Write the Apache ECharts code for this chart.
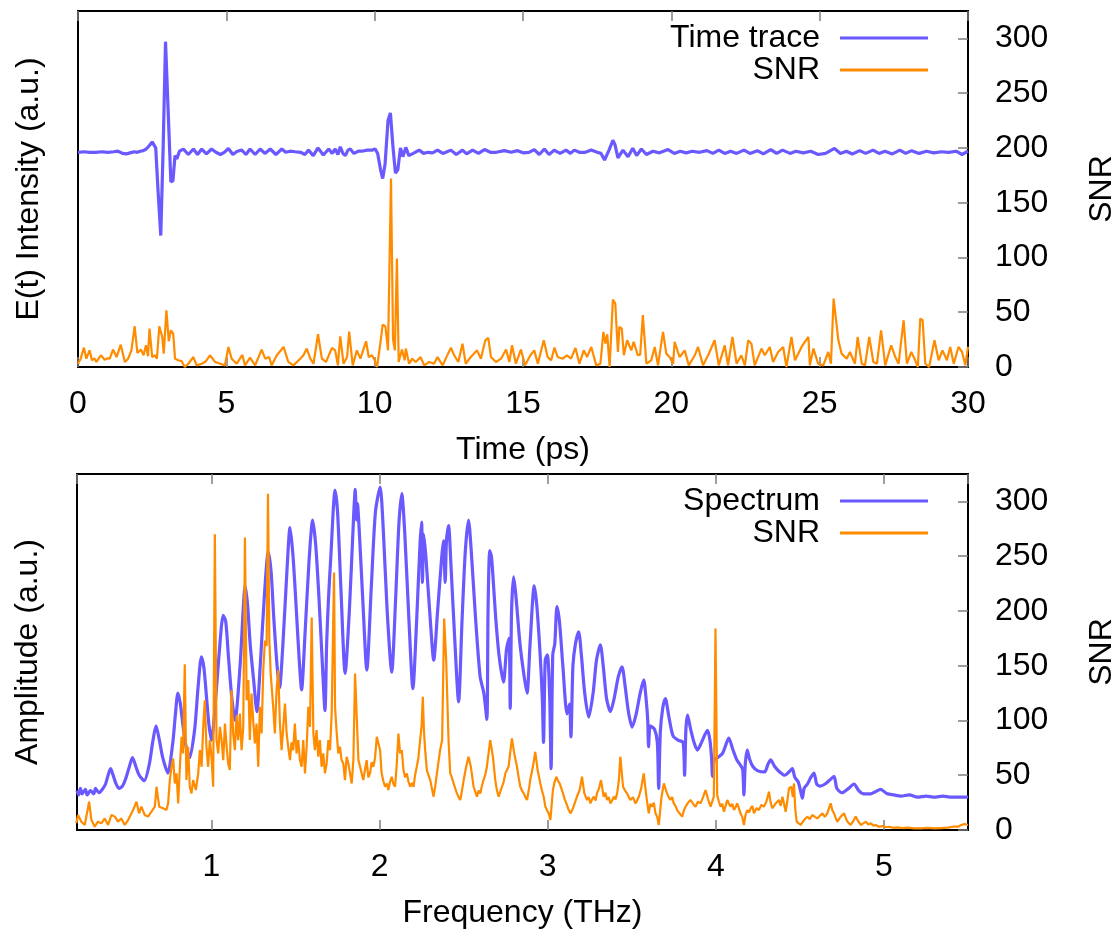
<!DOCTYPE html>
<html>
<head>
<meta charset="utf-8">
<script src="https://cdn.jsdelivr.net/npm/echarts@6/dist/echarts.min.js"></script>
<style>
html,body{margin:0;padding:0;background:#fff;}
#chart{width:1119px;height:930px;}
</style>
</head>
<body>
<div id="chart"></div>
<script>
// ---------- DATA ----------
const timeRange = [0, 30];
const freqRange = [0.2, 5.5];
const snrRange = [0, 325];

// Time trace (a.u., drawn on a hidden axis of same span as SNR)
const timeTrace = [
[0,196],[0.2,196.5],[0.4,196],[0.6,196],[0.8,196.5],[1.0,196],[1.2,196.5],[1.35,197],[1.5,195],[1.63,194.5],[1.75,195.5],[1.9,196.5],[2.0,196],[2.1,197],[2.2,197.5],[2.3,199],[2.4,202],[2.5,205.5],[2.55,207],[2.62,200],[2.7,160],[2.79,120],[2.87,200],[2.95,297],[3.03,240],[3.13,169],[3.2,170],[3.27,193],[3.33,190],[3.42,197],[3.55,199],[3.72,194],[3.89,199],[4.03,194],[4.17,199],[4.33,194.5],[4.5,199],[4.65,196],[4.8,194],[4.93,196],[5.07,199.5],[5.22,194],[5.37,197],[5.52,198],[5.66,194],[5.8,199],[5.97,194],[6.14,199],[6.3,195],[6.48,199],[6.67,194],[6.87,199],[7.0,196],[7.15,197],[7.32,196.5],[7.5,196],[7.65,194],[7.77,198],[7.93,193],[8.09,200],[8.27,193.5],[8.45,199],[8.57,195],[8.67,199],[8.76,194],[8.84,201],[8.93,195],[9.01,193],[9.1,198],[9.18,199],[9.3,195],[9.45,197],[9.57,197],[9.75,198],[9.91,198],[10.02,199],[10.1,195],[10.2,180],[10.27,172],[10.35,185],[10.45,225],[10.53,232],[10.62,200],[10.7,177],[10.78,180],[10.87,200],[10.95,192],[11.05,200.5],[11.15,193],[11.3,195],[11.5,198],[11.65,195],[11.8,196],[11.95,195.5],[12.12,198],[12.3,195],[12.4,196],[12.57,198],[12.75,194],[12.96,198],[13.1,194.5],[13.3,198],[13.5,195],[13.7,198.5],[13.9,196],[14.1,196],[14.37,197.5],[14.6,196],[14.82,197.5],[15.0,195.5],[15.2,196],[15.38,198.5],[15.55,194],[15.72,199],[15.88,194],[16.05,198],[16.25,195],[16.45,198],[16.6,195],[16.73,198],[16.9,196],[17.1,196],[17.3,198],[17.5,196],[17.63,195],[17.75,189],[17.9,198],[18.03,207],[18.1,203],[18.2,191],[18.37,198],[18.54,192],[18.7,199.7],[18.83,193],[18.99,199],[19.16,194],[19.38,197],[19.6,195.5],[19.89,198.5],[20.1,195],[20.3,197],[20.5,195.5],[20.7,197],[20.95,196],[21.2,197.5],[21.4,195],[21.6,198],[21.8,195],[22.0,197],[22.2,195],[22.45,198],[22.65,195],[22.9,197.5],[23.1,194.5],[23.35,198.5],[23.55,195],[23.75,198],[24.0,195],[24.2,197],[24.45,195.5],[24.7,197],[24.95,194],[25.2,195],[25.5,199.5],[25.7,195],[25.9,197],[26.1,194.5],[26.35,197.5],[26.55,195],[26.8,198],[27.0,195],[27.2,197],[27.45,194.5],[27.7,198],[27.9,195],[28.1,197.5],[28.35,195],[28.6,197],[28.85,195.5],[29.1,196.5],[29.35,196],[29.6,197],[29.8,194],[30.0,197]
];

// SNR over time
const timeSNR = [
[0,3],[0.09,7.6],[0.2,17.7],[0.28,7.6],[0.39,15.2],[0.47,6.1],[0.55,8],[0.62,4.6],[0.77,10.7],[0.9,6.7],[1.0,8],[1.07,7.6],[1.18,15.9],[1.3,9.1],[1.44,20.4],[1.58,4.6],[1.69,7.6],[1.8,15.2],[1.91,37.2],[2.0,12.8],[2.12,15.9],[2.21,10.7],[2.29,19.8],[2.36,9.8],[2.41,35.1],[2.5,9.1],[2.59,10.7],[2.66,7.6],[2.74,37.2],[2.84,27.4],[2.89,12.2],[2.98,51.8],[3.06,23.5],[3.13,33.5],[3.21,30.5],[3.27,7.6],[3.38,6.1],[3.49,5.5],[3.6,0],[3.72,3],[3.89,9.1],[4.0,1.5],[4.17,3],[4.3,5],[4.45,10.7],[4.62,4.6],[4.8,3],[4.95,1.5],[5.07,18.3],[5.18,7.6],[5.35,3],[5.54,11],[5.63,1.5],[5.8,8.5],[5.97,1.5],[6.19,15.9],[6.31,7.6],[6.44,9.1],[6.53,1.5],[6.7,10.7],[6.93,18.3],[7.09,4.6],[7.26,1.5],[7.49,7.6],[7.6,10.7],[7.71,16.8],[7.83,7.6],[7.94,3],[8.09,29.9],[8.22,7.6],[8.36,4.6],[8.56,17.4],[8.67,15.2],[8.76,1.5],[8.84,28],[8.95,3],[9.07,9.1],[9.14,32.3],[9.26,1.5],[9.4,15.2],[9.52,7.6],[9.71,23.5],[9.8,9.1],[9.91,10.7],[10.0,6.1],[10.08,0],[10.19,21.3],[10.27,38.7],[10.36,37.2],[10.45,15.2],[10.55,172],[10.62,25.3],[10.68,15.2],[10.75,99],[10.81,4.6],[10.92,15.9],[11.01,6.1],[11.05,16.8],[11.16,3],[11.27,7.6],[11.38,4.6],[11.55,9],[11.67,1.5],[11.84,4.6],[12.0,3],[12.12,9],[12.29,1.5],[12.57,17.7],[12.68,10.7],[12.82,4.6],[12.96,21.3],[13.07,3],[13.24,9.1],[13.45,15.2],[13.58,7.6],[13.73,24.4],[13.83,26.5],[13.92,9.1],[14.09,4.6],[14.26,7.6],[14.43,15.9],[14.54,4.6],[14.63,19.8],[14.76,3],[14.93,15.9],[15.07,1.5],[15.25,10.7],[15.38,15.2],[15.5,3],[15.7,24.4],[15.83,9.1],[15.95,6.1],[16.06,17.7],[16.17,9.1],[16.34,7.6],[16.48,10.7],[16.62,7.6],[16.77,17.4],[16.9,3],[17.05,15.2],[17.16,9.1],[17.3,18.3],[17.47,1.5],[17.61,3],[17.71,32],[17.78,21.3],[17.84,29.9],[17.92,0],[18.03,61.6],[18.11,58],[18.2,13.7],[18.25,36.6],[18.33,35],[18.4,10.7],[18.51,24.4],[18.65,15.2],[18.73,22.9],[18.87,10.7],[18.95,11.3],[19.04,47.3],[19.16,3],[19.32,6],[19.44,18.3],[19.55,1.5],[19.72,32],[19.83,12.2],[19.94,9.1],[20.06,3],[20.11,22.9],[20.28,9.1],[20.45,15.2],[20.59,1.5],[20.79,10.7],[20.9,18.3],[21.07,1.5],[21.24,10.7],[21.46,24.4],[21.6,1.5],[21.8,19.8],[21.91,1.5],[22.06,27.4],[22.2,3],[22.36,10.7],[22.48,1.5],[22.59,24.4],[22.7,21.3],[22.81,1.5],[23.04,16.8],[23.15,10.7],[23.32,18.3],[23.43,4.6],[23.6,13.7],[23.77,18.3],[23.88,0],[24.05,27.4],[24.17,6.1],[24.39,18.3],[24.5,22.9],[24.62,27.4],[24.67,1.5],[24.79,16.8],[24.95,3],[25.12,1.5],[25.29,13.7],[25.38,3],[25.47,62.5],[25.63,24.4],[25.74,12.2],[25.91,7.6],[26.02,13.7],[26.19,3],[26.28,27.4],[26.42,3],[26.53,1.5],[26.67,27.4],[26.81,4.6],[26.93,3],[27.07,33.5],[27.21,1.5],[27.41,19.8],[27.55,9.1],[27.66,3],[27.83,42.7],[27.94,3],[28.09,13.7],[28.22,6.1],[28.31,0],[28.39,44.2],[28.47,42.7],[28.56,3],[28.69,0],[28.87,24.4],[29.01,6.1],[29.14,15.2],[29.29,6.1],[29.4,18.3],[29.52,3],[29.68,18.3],[29.8,13.7],[29.91,1.5],[30.0,18.3]
];

// Amplitude spectrum (a.u., hidden axis of same span as SNR)
const spectrum = [
[0.2,36],[0.21,32],[0.22,38],[0.23,33],[0.25,37],[0.26,32],[0.28,36],[0.3,33],[0.31,38],[0.33,34],[0.35,37],[0.37,42],[0.385,50],[0.4,56],[0.415,50],[0.43,43],[0.45,38],[0.47,40],[0.49,47],[0.51,57],[0.53,66],[0.55,58],[0.57,50],[0.6,45],[0.63,60],[0.65,80],[0.67,95],[0.69,82],[0.71,66],[0.74,52],[0.77,80],[0.785,105],[0.8,125],[0.815,115],[0.83,96],[0.85,75],[0.87,66],[0.9,92],[0.92,130],[0.94,158],[0.955,148],[0.97,122],[0.985,96],[1.0,82],[1.02,110],[1.045,160],[1.07,196],[1.085,190],[1.1,160],[1.12,122],[1.14,100],[1.17,150],[1.19,205],[1.2,223],[1.215,205],[1.23,170],[1.25,138],[1.27,108],[1.29,150],[1.315,215],[1.338,254],[1.355,235],[1.37,195],[1.39,150],[1.405,130],[1.425,170],[1.45,240],[1.467,276],[1.485,250],[1.505,200],[1.52,160],[1.536,128],[1.555,175],[1.58,245],[1.602,283],[1.62,260],[1.64,210],[1.66,150],[1.675,109],[1.685,170],[1.695,208],[1.71,250],[1.735,310],[1.75,290],[1.77,220],[1.795,143],[1.82,200],[1.845,285],[1.855,311],[1.862,283],[1.868,298],[1.88,270],[1.9,210],[1.924,146],[1.95,220],[1.975,290],[2.003,313],[2.02,280],[2.045,200],[2.072,144],[2.095,210],[2.115,280],[2.132,307],[2.15,270],[2.175,190],[2.198,129],[2.22,190],[2.24,260],[2.25,281],[2.255,226],[2.262,270],[2.275,250],[2.3,195],[2.322,155],[2.345,200],[2.37,250],[2.38,264],[2.39,226],[2.398,265],[2.41,278],[2.425,240],[2.445,180],[2.47,117],[2.49,190],[2.51,255],[2.529,283],[2.545,255],[2.57,195],[2.598,140],[2.62,125],[2.638,101],[2.645,200],[2.655,255],[2.665,250],[2.675,230],[2.69,195],[2.71,160],[2.737,135],[2.755,165],[2.77,175],[2.777,111],[2.785,200],[2.797,231],[2.81,215],[2.835,170],[2.86,140],[2.877,125],[2.895,170],[2.92,223],[2.935,205],[2.955,160],[2.968,120],[2.975,80],[2.985,155],[2.998,160],[3.012,120],[3.02,56],[3.03,160],[3.042,170],[3.055,204],[3.07,190],[3.09,150],[3.115,106],[3.13,115],[3.138,85],[3.15,150],[3.165,170],[3.184,181],[3.2,160],[3.22,125],[3.244,103],[3.27,125],[3.29,155],[3.313,169],[3.33,150],[3.35,120],[3.373,108],[3.395,120],[3.42,140],[3.442,149],[3.46,132],[3.48,108],[3.502,94],[3.525,105],[3.55,125],[3.571,137],[3.585,120],[3.595,100],[3.6,76],[3.61,95],[3.635,92],[3.652,80],[3.66,38],[3.67,90],[3.685,112],[3.7,120],[3.72,104],[3.745,86],[3.775,82],[3.805,80],[3.814,50],[3.822,92],[3.832,105],[3.85,92],[3.87,80],[3.89,73],[3.915,80],[3.95,91],[3.965,82],[3.975,65],[3.98,49],[3.99,64],[4.01,66],[4.04,70],[4.06,78],[4.077,84],[4.1,74],[4.125,64],[4.147,59],[4.16,55],[4.167,32],[4.175,60],[4.187,73],[4.2,65],[4.22,58],[4.25,54],[4.29,53],[4.31,60],[4.326,64],[4.35,58],[4.38,53],[4.41,50],[4.435,53],[4.455,56],[4.47,48],[4.49,44],[4.505,35],[4.515,29],[4.525,38],[4.545,42],[4.565,48],[4.584,52],[4.6,42],[4.62,40],[4.65,42],[4.68,46],[4.703,49],[4.72,38],[4.75,34],[4.79,38],[4.822,42],[4.85,36],[4.88,33],[4.92,33],[4.95,35],[4.98,37],[5.02,33],[5.06,32],[5.1,31],[5.15,32],[5.2,30],[5.25,31],[5.3,30],[5.35,31],[5.4,30],[5.45,30],[5.5,30]
];

// SNR over frequency
const freqSNR = [
[0.196,6.1],[0.206,13.7],[0.226,7.6],[0.246,4.6],[0.272,25.8],[0.286,9.1],[0.305,3],[0.325,7.6],[0.345,6.1],[0.365,10.6],[0.385,4.6],[0.405,13.7],[0.425,12.2],[0.444,7.6],[0.464,10.6],[0.484,4.6],[0.504,9.1],[0.524,15.2],[0.538,19.8],[0.554,25.8],[0.569,15.2],[0.583,21.3],[0.603,13.7],[0.623,12.2],[0.643,16.7],[0.663,21.3],[0.673,39.5],[0.689,21.3],[0.712,19.8],[0.732,18.2],[0.742,24.3],[0.752,45.6],[0.762,57.7],[0.772,65.3],[0.782,42.5],[0.792,51.7],[0.802,24.3],[0.812,57.7],[0.822,85.1],[0.831,69.9],[0.841,151.3],[0.851,45.6],[0.861,76],[0.871,39.5],[0.881,33.4],[0.891,45.6],[0.907,36.5],[0.921,51.7],[0.931,72.9],[0.941,57.7],[0.951,94.2],[0.96,118.5],[0.97,76],[0.98,57.7],[0.99,82.1],[1.0,66.9],[1.01,39.5],[1.02,270],[1.03,82.1],[1.04,69.9],[1.05,94.2],[1.06,82.1],[1.07,63.8],[1.08,97.2],[1.09,76],[1.099,60.8],[1.109,54.7],[1.119,127.6],[1.129,88.1],[1.139,72.9],[1.149,104.8],[1.159,82.1],[1.169,106.4],[1.179,72.9],[1.189,94.2],[1.199,267],[1.209,118.5],[1.219,136.8],[1.228,82.1],[1.238,124.6],[1.248,100.3],[1.258,79],[1.268,97.2],[1.278,57.7],[1.288,112.4],[1.298,88.1],[1.308,145.9],[1.318,173],[1.328,168],[1.336,307],[1.344,175],[1.352,142.8],[1.367,112.4],[1.377,88.1],[1.387,127.6],[1.397,145.9],[1.407,97.2],[1.417,72.9],[1.427,94.2],[1.437,115.5],[1.447,88.1],[1.457,75],[1.467,63.8],[1.476,80],[1.486,72.9],[1.496,97.2],[1.506,69.9],[1.516,82.1],[1.526,63.8],[1.536,57.7],[1.546,82.1],[1.556,51.7],[1.566,76],[1.576,112.4],[1.586,94.2],[1.596,194],[1.606,88.1],[1.615,72.9],[1.625,91.2],[1.635,66.9],[1.645,82.1],[1.655,57.7],[1.665,69.9],[1.675,51.7],[1.685,60.8],[1.695,82.1],[1.705,72.9],[1.715,106.4],[1.729,235],[1.735,112.4],[1.745,88.1],[1.754,69.9],[1.764,76],[1.774,63.8],[1.784,60.8],[1.794,45.6],[1.804,66.9],[1.814,60.8],[1.824,51.7],[1.834,42.5],[1.844,63.8],[1.854,142.8],[1.864,103.3],[1.874,63.8],[1.884,57.7],[1.893,51.7],[1.903,45.6],[1.913,55],[1.923,63.8],[1.933,48],[1.943,51.7],[1.953,62],[1.963,57.7],[1.973,66],[1.983,85.1],[1.993,79],[2.003,72.9],[2.012,51.7],[2.022,45],[2.032,39.5],[2.043,42.5],[2.052,36.5],[2.062,44],[2.072,48.6],[2.082,42],[2.092,39.5],[2.102,60],[2.112,88.1],[2.122,70],[2.132,72.9],[2.142,54.7],[2.152,48],[2.162,51.7],[2.172,44],[2.182,39.5],[2.192,43],[2.202,39.5],[2.211,50],[2.221,57.7],[2.231,66],[2.241,82.1],[2.25,95],[2.257,121.6],[2.264,90],[2.271,72.9],[2.281,54.7],[2.291,50],[2.301,45.6],[2.311,38],[2.321,30.4],[2.331,40],[2.341,51.7],[2.35,62],[2.36,72.9],[2.372,82.1],[2.384,193],[2.396,155],[2.41,82.1],[2.42,51.7],[2.43,48],[2.44,42.5],[2.45,38],[2.46,33.4],[2.47,30],[2.48,27.4],[2.49,36],[2.5,45.6],[2.515,57.7],[2.529,66.9],[2.543,57.7],[2.559,39.5],[2.569,35],[2.579,30.4],[2.589,36],[2.599,33.4],[2.608,40],[2.618,45.6],[2.628,50],[2.638,57.7],[2.658,82.1],[2.674,66.9],[2.688,45.6],[2.698,36],[2.708,30.4],[2.718,35],[2.728,39.5],[2.738,44],[2.748,51.7],[2.758,50],[2.767,57.7],[2.787,83.6],[2.801,69.9],[2.817,57.7],[2.827,48],[2.837,39.5],[2.847,36],[2.857,33.4],[2.867,30],[2.877,27.4],[2.887,36],[2.896,45.6],[2.912,57.7],[2.926,71.4],[2.94,54.7],[2.956,42.5],[2.966,36],[2.976,30.4],[2.986,21.3],[2.996,18],[3.006,15.2],[3.016,9.1],[3.031,36.5],[3.041,44],[3.051,48.6],[3.061,45],[3.071,42.5],[3.081,38],[3.091,33.4],[3.101,28],[3.111,24.3],[3.123,19],[3.135,15.2],[3.145,18],[3.154,21.3],[3.164,26],[3.174,30.4],[3.19,36.5],[3.204,48.6],[3.218,33.4],[3.234,27.4],[3.244,30],[3.254,24.3],[3.264,28],[3.274,30.4],[3.284,27],[3.293,33.4],[3.305,38],[3.317,45.6],[3.333,30.4],[3.343,34],[3.353,27.4],[3.363,30],[3.373,24.3],[3.383,27],[3.393,30.4],[3.403,28],[3.413,33.4],[3.423,45],[3.432,66.9],[3.448,39.5],[3.46,36],[3.472,33.4],[3.482,30],[3.492,27.4],[3.507,30],[3.522,24.3],[3.532,27],[3.542,30.4],[3.556,38],[3.571,51.7],[3.587,30.4],[3.601,15.2],[3.611,24],[3.621,21.3],[3.631,25],[3.641,15.2],[3.651,12],[3.661,4.6],[3.677,30.4],[3.691,42.5],[3.7,38],[3.71,33.4],[3.72,30],[3.73,27.4],[3.74,30],[3.75,24.3],[3.76,22],[3.77,18.2],[3.785,15],[3.8,12.2],[3.81,18],[3.82,21.3],[3.835,25],[3.849,27.4],[3.864,24],[3.879,21.3],[3.894,26],[3.909,24.3],[3.924,30],[3.939,36.5],[3.954,28],[3.969,21.3],[3.988,30.4],[3.998,184],[4.008,31.9],[4.018,26],[4.028,21.3],[4.038,24],[4.048,16.7],[4.058,22],[4.068,27.4],[4.078,24],[4.088,21.3],[4.098,24],[4.108,18.2],[4.118,21],[4.127,24.3],[4.137,20],[4.147,15.2],[4.157,12],[4.167,4.6],[4.177,14],[4.187,18.2],[4.197,16],[4.207,19.8],[4.217,22],[4.227,15.2],[4.242,20],[4.256,18.2],[4.271,23],[4.286,21.3],[4.301,26],[4.316,34.9],[4.326,25],[4.336,19.8],[4.346,22],[4.356,24.3],[4.366,26],[4.376,27.4],[4.386,22],[4.396,30.4],[4.406,24],[4.415,16.7],[4.425,26],[4.435,38],[4.449,39.5],[4.458,30],[4.465,42.5],[4.472,20],[4.481,7.6],[4.493,6],[4.505,4.6],[4.515,7],[4.525,9.1],[4.535,8],[4.544,12.2],[4.559,10],[4.574,13.7],[4.589,12],[4.604,10.6],[4.619,13],[4.634,15.2],[4.648,12],[4.663,15.2],[4.673,20],[4.683,24.3],[4.693,18],[4.703,15.2],[4.713,11],[4.723,7.6],[4.733,10],[4.743,12.2],[4.753,13],[4.763,15.2],[4.773,11],[4.783,7.6],[4.792,6],[4.802,4.6],[4.817,8],[4.832,12.2],[4.847,8],[4.862,4.6],[4.877,6],[4.892,7.6],[4.907,5],[4.922,6.1],[4.937,4],[4.951,4.6],[4.97,3],[4.991,3.6],[5.01,2.5],[5.031,3],[5.055,2],[5.08,2.4],[5.11,1.8],[5.14,2.1],[5.18,1.5],[5.22,1.5],[5.26,2],[5.3,1.5],[5.34,1.8],[5.38,2.1],[5.41,3],[5.44,3],[5.46,4.5],[5.48,5.5],[5.5,4.6]
];

// ---------- CHART ----------
const FONT = 'Liberation Sans';
const FS = 32;
const BLUE = '#6959ff';
const ORANGE = '#ff8c00';
const TICKC = '#7f7f7f';

const chart = echarts.init(document.getElementById('chart'), null, {renderer: 'canvas'});

function tickStyle() {
  return {show: true, inside: true, length: 10, lineStyle: {color: TICKC, width: 1.5}};
}
function xAxis(grid, range, step, pos, name) {
  const bottom = pos === 'bottom';
  return {
    type: 'value', gridIndex: grid, position: pos, min: range[0], max: range[1],
    minInterval: step, maxInterval: step,
    name: bottom ? name : '', nameLocation: 'middle', nameGap: 67,
    nameTextStyle: {fontFamily: FONT, fontSize: FS, color: '#000'},
    axisLine: {show: false, onZero: false},
    axisTick: tickStyle(),
    axisLabel: {show: bottom, showMinLabel: range[0] % step === 0, showMaxLabel: range[1] % step === 0,
                margin: 21, fontFamily: FONT, fontSize: FS, color: '#000'},
    splitLine: {show: false}
  };
}
function yAxisLeft(grid, name) {
  return {
    type: 'value', gridIndex: grid, position: 'left', min: snrRange[0], max: snrRange[1],
    name: name, nameLocation: 'middle', nameGap: 33, nameRotate: 90,
    nameTextStyle: {fontFamily: FONT, fontSize: FS, color: '#000'},
    axisLine: {show: false, onZero: false}, axisTick: {show: false}, axisLabel: {show: false},
    splitLine: {show: false}
  };
}
function yAxisRight(grid) {
  return {
    type: 'value', gridIndex: grid, position: 'right', min: snrRange[0], max: snrRange[1],
    minInterval: 50, maxInterval: 50,
    name: 'SNR', nameLocation: 'middle', nameGap: 118, nameRotate: 90,
    nameTextStyle: {fontFamily: FONT, fontSize: FS, color: '#000'},
    axisLine: {show: false, onZero: false},
    axisTick: tickStyle(),
    axisLabel: {show: true, showMaxLabel: false, margin: 27, fontFamily: FONT, fontSize: FS, color: '#000'},
    splitLine: {show: false}
  };
}
function legend(top, names) {
  return {
    data: names.map(n => ({name: n, icon: 'rect'})),
    orient: 'vertical', right: 186, top: top, align: 'right',
    itemWidth: 88, itemHeight: 3, itemGap: 0, selectedMode: false,
    textStyle: {fontFamily: FONT, fontSize: FS, color: '#000', lineHeight: 32, padding: [0, 15, 0, 0]}
  };
}
function lineSeries(name, data, xi, yi, color, width, smooth) {
  return {
    name: name, type: 'line', data: data, xAxisIndex: xi, yAxisIndex: yi,
    showSymbol: false, symbol: 'none', clip: true, smooth: smooth || false,
    lineStyle: {color: color, width: width}, itemStyle: {color: color},
    emphasis: {disabled: true}
  };
}
const gridBase = {show: true, borderColor: '#000', borderWidth: 2, backgroundColor: 'transparent',
                  containLabel: false, outerBoundsMode: 'none'};

chart.setOption({
  animation: false,
  backgroundColor: '#fff',
  textStyle: {fontFamily: FONT},
  grid: [
    Object.assign({left: 78, top: 11, width: 890, height: 356}, gridBase),
    Object.assign({left: 77, top: 474, width: 891, height: 356}, gridBase)
  ],
  xAxis: [
    xAxis(0, timeRange, 5, 'bottom', 'Time (ps)'),
    xAxis(0, timeRange, 5, 'top'),
    xAxis(1, freqRange, 1, 'bottom', 'Frequency (THz)'),
    xAxis(1, freqRange, 1, 'top')
  ],
  yAxis: [
    yAxisLeft(0, 'E(t) Intensity (a.u.)'),
    yAxisRight(0),
    yAxisLeft(1, 'Amplitude (a.u.)'),
    yAxisRight(1)
  ],
  legend: [
    legend(17, ['Time trace', 'SNR']),
    legend(480, ['Spectrum', 'SNR'])
  ],
  series: [
    lineSeries('Time trace', timeTrace, 0, 0, BLUE, 3.2),
    lineSeries('SNR', timeSNR, 0, 1, ORANGE, 2.2),
    lineSeries('Spectrum', spectrum, 2, 2, BLUE, 3.2, 0.25),
    lineSeries('SNR', freqSNR, 2, 3, ORANGE, 2.2)
  ]
});
</script>
</body>
</html>
